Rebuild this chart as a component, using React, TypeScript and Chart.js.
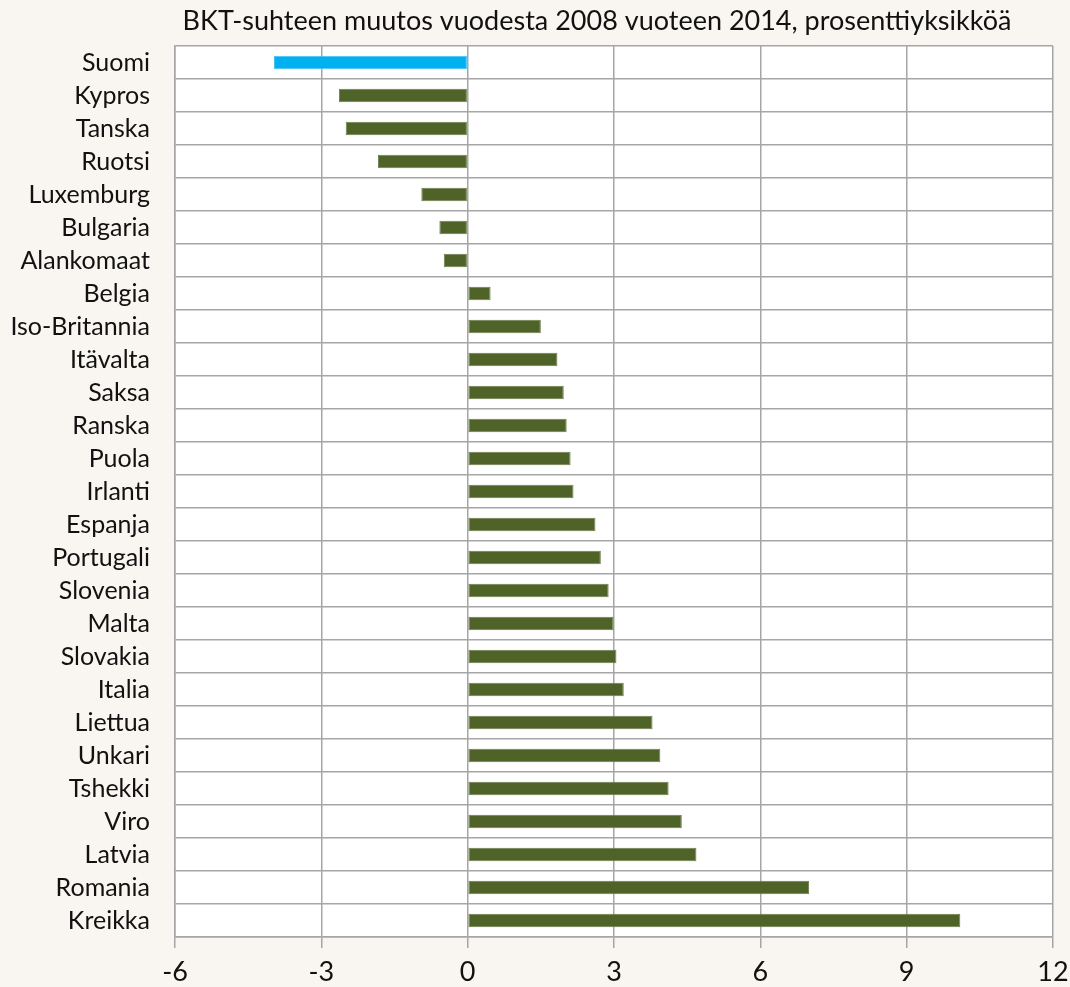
import React, { useEffect, useRef } from "react";
import { Chart, registerables } from "chart.js";

Chart.register(...registerables);

const titleText = "BKT-suhteen muutos vuodesta 2008 vuoteen 2014, prosenttiyksikköä";

const countries = [
  "Suomi", "Kypros", "Tanska", "Ruotsi", "Luxemburg", "Bulgaria", "Alankomaat",
  "Belgia", "Iso-Britannia", "Itävalta", "Saksa", "Ranska", "Puola", "Irlanti",
  "Espanja", "Portugali", "Slovenia", "Malta", "Slovakia", "Italia", "Liettua",
  "Unkari", "Tshekki", "Viro", "Latvia", "Romania", "Kreikka",
];

const changes = [
  -3.97, -2.64, -2.5, -1.84, -0.95, -0.58, -0.49,
  0.47, 1.5, 1.84, 1.97, 2.03, 2.11, 2.17,
  2.62, 2.73, 2.89, 2.99, 3.05, 3.2, 3.79,
  3.95, 4.12, 4.39, 4.69, 7.0, 10.1,
];

const highlighted = ["Suomi"];

const xTicks = [-6, -3, 0, 3, 6, 9, 12];

const BLUE = "#00b0f0";
const GREEN = "#4f6228";
const BG = "#f9f5f0";

export default function App() {
  const ref = useRef<HTMLCanvasElement | null>(null);

  useEffect(() => {
    document.body.style.margin = "0";
    document.body.style.background = BG;
    const canvas = ref.current;
    if (!canvas) return;

    const plotBg = {
      id: "plotBg",
      beforeDraw(chart: any) {
        const { ctx, chartArea } = chart;
        ctx.save();
        ctx.fillStyle = BG;
        ctx.fillRect(0, 0, chart.width, chart.height);
        ctx.fillStyle = "#ffffff";
        ctx.fillRect(chartArea.left, chartArea.top, chartArea.right - chartArea.left, chartArea.bottom - chartArea.top);
        ctx.restore();
      },
      afterDraw(chart: any) {
        const { ctx } = chart;
        ctx.save();
        ctx.fillStyle = "#111111";
        ctx.font = "27px Lato";
        ctx.textAlign = "center";
        ctx.textBaseline = "middle";
        ctx.fillText(titleText, 597, 21);
        ctx.restore();
      },
    };

    const chart = new Chart(canvas, {
      type: "bar",
      data: {
        labels: countries,
        datasets: [
          {
            data: changes,
            backgroundColor: countries.map((c) => (highlighted.includes(c) ? BLUE : GREEN)),
            borderColor: countries.map((c) => (highlighted.includes(c) ? "#40c4f4" : "#6d7f4c")),
            borderWidth: 1,
            borderSkipped: false,
            categoryPercentage: 1,
            barPercentage: 0.41,
          },
        ],
      },
      options: {
        indexAxis: "y",
        animation: false,
        responsive: false,
        maintainAspectRatio: false,
        layout: { padding: { top: 46, right: 17, left: 0, bottom: 0 } },
        plugins: {
          legend: { display: false },
          title: { display: false },
          tooltip: { enabled: false },
        },
        scales: {
          x: {
            type: "linear",
            min: -6,
            max: 12,
            afterBuildTicks(axis: any) {
              axis.ticks = xTicks.map((v) => ({ value: v }));
            },
            afterFit(axis: any) {
              axis.height = 50;
              axis.paddingLeft = 0;
              axis.paddingRight = 0;
            },
            grid: {
              color: "#a6a6a6",
              lineWidth: 1.5,
              drawTicks: true,
              tickLength: 11,
              tickColor: "#a6a6a6",
            },
            border: { color: "#a6a6a6", width: 1.5 },
            ticks: {
              color: "#111111",
              font: { family: "Lato", size: 27 },
              padding: 8,
            },
          },
          y: {
            afterFit(axis: any) {
              axis.width = 175;
              axis.paddingTop = 0;
              axis.paddingBottom = 0;
            },
            grid: {
              color: "#a6a6a6",
              lineWidth: 1.5,
              offset: true,
              drawTicks: false,
            },
            border: { color: "#a6a6a6", width: 1.5 },
            ticks: {
              color: "#111111",
              font: { family: "Lato", size: 25 },
              padding: 25,
              autoSkip: false,
            },
          },
        },
      },
      plugins: [plotBg],
    });

    return () => chart.destroy();
  }, []);

  return (
    <div style={{ width: 1070, height: 987, background: BG }}>
      <canvas ref={ref} width={1070} height={987} style={{ display: "block" }} />
    </div>
  );
}
